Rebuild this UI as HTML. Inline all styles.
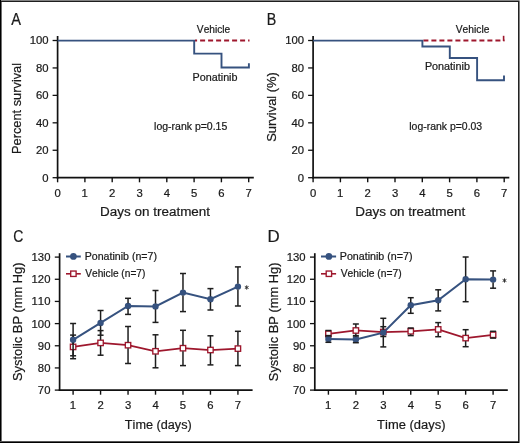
<!DOCTYPE html>
<html><head><meta charset="utf-8"><style>
html,body{margin:0;padding:0;background:#fff;width:520px;height:443px;overflow:hidden}
svg{display:block;will-change:transform}
text{font-family:"Liberation Sans",sans-serif;font-kerning:none;stroke:#1a1a1a;stroke-width:0.22px}
</style></head><body>
<svg width="520" height="443" viewBox="0 0 520 443">
<rect x="0" y="0" width="520" height="443" fill="#fff"/>
<line x1="57.60" y1="36.00" x2="57.60" y2="178.60" stroke="#111" stroke-width="1.7" />
<line x1="56.75" y1="177.70" x2="253.80" y2="177.70" stroke="#111" stroke-width="1.75" />
<line x1="52.60" y1="177.70" x2="57.60" y2="177.70" stroke="#111" stroke-width="1.3" />
<text transform="translate(42.36,181.50) scale(1.0000,1)" font-size="11.3" fill="#1a1a1a">0</text>
<line x1="52.60" y1="150.26" x2="57.60" y2="150.26" stroke="#111" stroke-width="1.3" />
<text transform="translate(36.07,154.06) scale(1.0000,1)" font-size="11.3" fill="#1a1a1a">20</text>
<line x1="52.60" y1="122.82" x2="57.60" y2="122.82" stroke="#111" stroke-width="1.3" />
<text transform="translate(36.07,126.62) scale(1.0000,1)" font-size="11.3" fill="#1a1a1a">40</text>
<line x1="52.60" y1="95.38" x2="57.60" y2="95.38" stroke="#111" stroke-width="1.3" />
<text transform="translate(36.07,99.18) scale(1.0000,1)" font-size="11.3" fill="#1a1a1a">60</text>
<line x1="52.60" y1="67.94" x2="57.60" y2="67.94" stroke="#111" stroke-width="1.3" />
<text transform="translate(36.07,71.74) scale(1.0000,1)" font-size="11.3" fill="#1a1a1a">80</text>
<line x1="52.60" y1="40.50" x2="57.60" y2="40.50" stroke="#111" stroke-width="1.3" />
<text transform="translate(29.79,44.30) scale(1.0000,1)" font-size="11.3" fill="#1a1a1a">100</text>
<line x1="57.60" y1="177.70" x2="57.60" y2="182.30" stroke="#111" stroke-width="1.4" />
<text transform="translate(54.46,196.60) scale(1.0000,1)" font-size="11.3" fill="#1a1a1a">0</text>
<line x1="84.90" y1="177.70" x2="84.90" y2="182.30" stroke="#111" stroke-width="1.4" />
<text transform="translate(81.60,196.60) scale(1.0000,1)" font-size="11.3" fill="#1a1a1a">1</text>
<line x1="112.20" y1="177.70" x2="112.20" y2="182.30" stroke="#111" stroke-width="1.4" />
<text transform="translate(109.06,196.60) scale(1.0000,1)" font-size="11.3" fill="#1a1a1a">2</text>
<line x1="139.50" y1="177.70" x2="139.50" y2="182.30" stroke="#111" stroke-width="1.4" />
<text transform="translate(136.39,196.60) scale(1.0000,1)" font-size="11.3" fill="#1a1a1a">3</text>
<line x1="166.80" y1="177.70" x2="166.80" y2="182.30" stroke="#111" stroke-width="1.4" />
<text transform="translate(163.69,196.60) scale(1.0000,1)" font-size="11.3" fill="#1a1a1a">4</text>
<line x1="194.10" y1="177.70" x2="194.10" y2="182.30" stroke="#111" stroke-width="1.4" />
<text transform="translate(190.97,196.60) scale(1.0000,1)" font-size="11.3" fill="#1a1a1a">5</text>
<line x1="221.40" y1="177.70" x2="221.40" y2="182.30" stroke="#111" stroke-width="1.4" />
<text transform="translate(218.22,196.60) scale(1.0000,1)" font-size="11.3" fill="#1a1a1a">6</text>
<line x1="248.70" y1="177.70" x2="248.70" y2="182.30" stroke="#111" stroke-width="1.4" />
<text transform="translate(245.55,196.60) scale(1.0000,1)" font-size="11.3" fill="#1a1a1a">7</text>
<line x1="313.10" y1="36.00" x2="313.10" y2="178.60" stroke="#111" stroke-width="1.7" />
<line x1="312.25" y1="177.70" x2="509.30" y2="177.70" stroke="#111" stroke-width="1.75" />
<line x1="308.10" y1="177.70" x2="313.10" y2="177.70" stroke="#111" stroke-width="1.3" />
<text transform="translate(297.86,181.50) scale(1.0000,1)" font-size="11.3" fill="#1a1a1a">0</text>
<line x1="308.10" y1="150.26" x2="313.10" y2="150.26" stroke="#111" stroke-width="1.3" />
<text transform="translate(291.57,154.06) scale(1.0000,1)" font-size="11.3" fill="#1a1a1a">20</text>
<line x1="308.10" y1="122.82" x2="313.10" y2="122.82" stroke="#111" stroke-width="1.3" />
<text transform="translate(291.57,126.62) scale(1.0000,1)" font-size="11.3" fill="#1a1a1a">40</text>
<line x1="308.10" y1="95.38" x2="313.10" y2="95.38" stroke="#111" stroke-width="1.3" />
<text transform="translate(291.57,99.18) scale(1.0000,1)" font-size="11.3" fill="#1a1a1a">60</text>
<line x1="308.10" y1="67.94" x2="313.10" y2="67.94" stroke="#111" stroke-width="1.3" />
<text transform="translate(291.57,71.74) scale(1.0000,1)" font-size="11.3" fill="#1a1a1a">80</text>
<line x1="308.10" y1="40.50" x2="313.10" y2="40.50" stroke="#111" stroke-width="1.3" />
<text transform="translate(285.29,44.30) scale(1.0000,1)" font-size="11.3" fill="#1a1a1a">100</text>
<line x1="313.10" y1="177.70" x2="313.10" y2="182.30" stroke="#111" stroke-width="1.4" />
<text transform="translate(309.96,196.60) scale(1.0000,1)" font-size="11.3" fill="#1a1a1a">0</text>
<line x1="340.40" y1="177.70" x2="340.40" y2="182.30" stroke="#111" stroke-width="1.4" />
<text transform="translate(337.10,196.60) scale(1.0000,1)" font-size="11.3" fill="#1a1a1a">1</text>
<line x1="367.70" y1="177.70" x2="367.70" y2="182.30" stroke="#111" stroke-width="1.4" />
<text transform="translate(364.56,196.60) scale(1.0000,1)" font-size="11.3" fill="#1a1a1a">2</text>
<line x1="395.00" y1="177.70" x2="395.00" y2="182.30" stroke="#111" stroke-width="1.4" />
<text transform="translate(391.89,196.60) scale(1.0000,1)" font-size="11.3" fill="#1a1a1a">3</text>
<line x1="422.30" y1="177.70" x2="422.30" y2="182.30" stroke="#111" stroke-width="1.4" />
<text transform="translate(419.19,196.60) scale(1.0000,1)" font-size="11.3" fill="#1a1a1a">4</text>
<line x1="449.60" y1="177.70" x2="449.60" y2="182.30" stroke="#111" stroke-width="1.4" />
<text transform="translate(446.47,196.60) scale(1.0000,1)" font-size="11.3" fill="#1a1a1a">5</text>
<line x1="476.90" y1="177.70" x2="476.90" y2="182.30" stroke="#111" stroke-width="1.4" />
<text transform="translate(473.72,196.60) scale(1.0000,1)" font-size="11.3" fill="#1a1a1a">6</text>
<line x1="504.20" y1="177.70" x2="504.20" y2="182.30" stroke="#111" stroke-width="1.4" />
<text transform="translate(501.05,196.60) scale(1.0000,1)" font-size="11.3" fill="#1a1a1a">7</text>
<line x1="195.00" y1="40.6" x2="249.50" y2="40.6" stroke="#9e172d" stroke-width="2" stroke-dasharray="5,3" stroke-dashoffset="2.9"/>
<path d="M57.60,40.60 L194.20,40.60 L194.20,53.60 L221.50,53.60 L221.50,67.50 L248.90,67.50 L248.90,63.20" fill="none" stroke="#36527f" stroke-width="1.9" stroke-linejoin="miter" stroke-linecap="butt"/>
<line x1="423.40" y1="40.6" x2="504.50" y2="40.6" stroke="#9e172d" stroke-width="2" stroke-dasharray="5,3" stroke-dashoffset="0"/>
<path d="M313.10,40.60 L422.40,40.60 L422.40,46.50 L449.80,46.50 L449.80,58.00 L477.10,58.00 L477.10,80.20 L504.00,80.20 L504.00,75.60" fill="none" stroke="#36527f" stroke-width="1.9" stroke-linejoin="miter" stroke-linecap="butt"/>
<line x1="503.60" y1="35.80" x2="503.60" y2="41.00" stroke="#9e172d" stroke-width="1.6" />
<text transform="translate(196.86,32.90) scale(0.9698,1)" font-size="10.5" fill="#1a1a1a">Vehicle</text>
<text transform="translate(192.62,80.60) scale(1.0263,1)" font-size="10.5" fill="#1a1a1a">Ponatinib</text>
<text transform="translate(154.09,129.60) scale(0.9999,1)" font-size="10.5" fill="#1a1a1a">log-rank p=0.15</text>
<text transform="translate(100.10,216.00) scale(0.9827,1)" font-size="13.7" fill="#1a1a1a">Days on treatment</text>
<text transform="translate(20.60,153.95) rotate(-90) scale(0.9348,1)" font-size="13.7" fill="#1a1a1a">Percent survival</text>
<text transform="translate(455.75,33.00) scale(0.9786,1)" font-size="10.5" fill="#1a1a1a">Vehicle</text>
<text transform="translate(424.91,70.00) scale(1.0287,1)" font-size="10.5" fill="#1a1a1a">Ponatinib</text>
<text transform="translate(409.30,129.70) scale(0.9946,1)" font-size="10.5" fill="#1a1a1a">log-rank p=0.03</text>
<text transform="translate(355.19,216.00) scale(0.9846,1)" font-size="13.7" fill="#1a1a1a">Days on treatment</text>
<text transform="translate(276.10,141.79) rotate(-90) scale(0.9452,1)" font-size="13.7" fill="#1a1a1a">Survival (%)</text>
<text transform="translate(11.17,24.60) scale(0.8605,1)" font-size="17.0" fill="#1a1a1a">A</text>
<text transform="translate(266.83,24.90) scale(0.8302,1)" font-size="17.2" fill="#1a1a1a">B</text>
<text transform="translate(13.29,242.10) scale(0.8171,1)" font-size="17.2" fill="#1a1a1a">C</text>
<text transform="translate(267.62,242.10) scale(0.9816,1)" font-size="17.2" fill="#1a1a1a">D</text>
<line x1="59.60" y1="253.20" x2="59.60" y2="391.00" stroke="#111" stroke-width="1.7" />
<line x1="58.75" y1="390.10" x2="252.60" y2="390.10" stroke="#111" stroke-width="1.75" />
<line x1="54.80" y1="390.10" x2="59.60" y2="390.10" stroke="#111" stroke-width="1.3" />
<text transform="translate(37.87,394.00) scale(1.0000,1)" font-size="11.3" fill="#1a1a1a">70</text>
<line x1="54.80" y1="367.93" x2="59.60" y2="367.93" stroke="#111" stroke-width="1.3" />
<text transform="translate(37.87,371.83) scale(1.0000,1)" font-size="11.3" fill="#1a1a1a">80</text>
<line x1="54.80" y1="345.77" x2="59.60" y2="345.77" stroke="#111" stroke-width="1.3" />
<text transform="translate(37.87,349.67) scale(1.0000,1)" font-size="11.3" fill="#1a1a1a">90</text>
<line x1="54.80" y1="323.60" x2="59.60" y2="323.60" stroke="#111" stroke-width="1.3" />
<text transform="translate(31.59,327.50) scale(1.0000,1)" font-size="11.3" fill="#1a1a1a">100</text>
<line x1="54.80" y1="301.43" x2="59.60" y2="301.43" stroke="#111" stroke-width="1.3" />
<text transform="translate(31.59,305.33) scale(1.0000,1)" font-size="11.3" fill="#1a1a1a">110</text>
<line x1="54.80" y1="279.27" x2="59.60" y2="279.27" stroke="#111" stroke-width="1.3" />
<text transform="translate(31.59,283.17) scale(1.0000,1)" font-size="11.3" fill="#1a1a1a">120</text>
<line x1="54.80" y1="257.10" x2="59.60" y2="257.10" stroke="#111" stroke-width="1.3" />
<text transform="translate(31.59,261.00) scale(1.0000,1)" font-size="11.3" fill="#1a1a1a">130</text>
<line x1="73.10" y1="390.10" x2="73.10" y2="394.70" stroke="#111" stroke-width="1.4" />
<text transform="translate(69.80,409.40) scale(1.0000,1)" font-size="11.3" fill="#1a1a1a">1</text>
<line x1="100.57" y1="390.10" x2="100.57" y2="394.70" stroke="#111" stroke-width="1.4" />
<text transform="translate(97.43,409.40) scale(1.0000,1)" font-size="11.3" fill="#1a1a1a">2</text>
<line x1="128.04" y1="390.10" x2="128.04" y2="394.70" stroke="#111" stroke-width="1.4" />
<text transform="translate(124.93,409.40) scale(1.0000,1)" font-size="11.3" fill="#1a1a1a">3</text>
<line x1="155.51" y1="390.10" x2="155.51" y2="394.70" stroke="#111" stroke-width="1.4" />
<text transform="translate(152.40,409.40) scale(1.0000,1)" font-size="11.3" fill="#1a1a1a">4</text>
<line x1="182.98" y1="390.10" x2="182.98" y2="394.70" stroke="#111" stroke-width="1.4" />
<text transform="translate(179.85,409.40) scale(1.0000,1)" font-size="11.3" fill="#1a1a1a">5</text>
<line x1="210.45" y1="390.10" x2="210.45" y2="394.70" stroke="#111" stroke-width="1.4" />
<text transform="translate(207.27,409.40) scale(1.0000,1)" font-size="11.3" fill="#1a1a1a">6</text>
<line x1="237.92" y1="390.10" x2="237.92" y2="394.70" stroke="#111" stroke-width="1.4" />
<text transform="translate(234.77,409.40) scale(1.0000,1)" font-size="11.3" fill="#1a1a1a">7</text>
<path d="M73.10,346.90 L100.57,342.90 L128.04,345.20 L155.51,351.30 L182.98,348.20 L210.45,350.00 L237.92,348.60" fill="none" stroke="#9e172d" stroke-width="1.75"/>
<rect x="70.40" y="344.20" width="5.4" height="5.4" fill="#fff" stroke="#9e172d" stroke-width="1.35"/>
<rect x="97.87" y="340.20" width="5.4" height="5.4" fill="#fff" stroke="#9e172d" stroke-width="1.35"/>
<rect x="125.34" y="342.50" width="5.4" height="5.4" fill="#fff" stroke="#9e172d" stroke-width="1.35"/>
<rect x="152.81" y="348.60" width="5.4" height="5.4" fill="#fff" stroke="#9e172d" stroke-width="1.35"/>
<rect x="180.28" y="345.50" width="5.4" height="5.4" fill="#fff" stroke="#9e172d" stroke-width="1.35"/>
<rect x="207.75" y="347.30" width="5.4" height="5.4" fill="#fff" stroke="#9e172d" stroke-width="1.35"/>
<rect x="235.22" y="345.90" width="5.4" height="5.4" fill="#fff" stroke="#9e172d" stroke-width="1.35"/>
<line x1="73.10" y1="335.10" x2="73.10" y2="343.90" stroke="#1e1e1e" stroke-width="1.5" />
<line x1="73.10" y1="349.90" x2="73.10" y2="358.70" stroke="#1e1e1e" stroke-width="1.5" />
<line x1="70.10" y1="335.10" x2="76.10" y2="335.10" stroke="#1e1e1e" stroke-width="1.5" />
<line x1="70.10" y1="358.70" x2="76.10" y2="358.70" stroke="#1e1e1e" stroke-width="1.5" />
<line x1="100.57" y1="330.60" x2="100.57" y2="339.90" stroke="#1e1e1e" stroke-width="1.5" />
<line x1="100.57" y1="345.90" x2="100.57" y2="355.20" stroke="#1e1e1e" stroke-width="1.5" />
<line x1="97.57" y1="330.60" x2="103.57" y2="330.60" stroke="#1e1e1e" stroke-width="1.5" />
<line x1="97.57" y1="355.20" x2="103.57" y2="355.20" stroke="#1e1e1e" stroke-width="1.5" />
<line x1="128.04" y1="326.50" x2="128.04" y2="342.20" stroke="#1e1e1e" stroke-width="1.5" />
<line x1="128.04" y1="348.20" x2="128.04" y2="363.50" stroke="#1e1e1e" stroke-width="1.5" />
<line x1="125.04" y1="326.50" x2="131.04" y2="326.50" stroke="#1e1e1e" stroke-width="1.5" />
<line x1="125.04" y1="363.50" x2="131.04" y2="363.50" stroke="#1e1e1e" stroke-width="1.5" />
<line x1="155.51" y1="334.80" x2="155.51" y2="348.30" stroke="#1e1e1e" stroke-width="1.5" />
<line x1="155.51" y1="354.30" x2="155.51" y2="367.80" stroke="#1e1e1e" stroke-width="1.5" />
<line x1="152.51" y1="334.80" x2="158.51" y2="334.80" stroke="#1e1e1e" stroke-width="1.5" />
<line x1="152.51" y1="367.80" x2="158.51" y2="367.80" stroke="#1e1e1e" stroke-width="1.5" />
<line x1="182.98" y1="330.30" x2="182.98" y2="345.20" stroke="#1e1e1e" stroke-width="1.5" />
<line x1="182.98" y1="351.20" x2="182.98" y2="365.60" stroke="#1e1e1e" stroke-width="1.5" />
<line x1="179.98" y1="330.30" x2="185.98" y2="330.30" stroke="#1e1e1e" stroke-width="1.5" />
<line x1="179.98" y1="365.60" x2="185.98" y2="365.60" stroke="#1e1e1e" stroke-width="1.5" />
<line x1="210.45" y1="335.80" x2="210.45" y2="347.00" stroke="#1e1e1e" stroke-width="1.5" />
<line x1="210.45" y1="353.00" x2="210.45" y2="364.90" stroke="#1e1e1e" stroke-width="1.5" />
<line x1="207.45" y1="335.80" x2="213.45" y2="335.80" stroke="#1e1e1e" stroke-width="1.5" />
<line x1="207.45" y1="364.90" x2="213.45" y2="364.90" stroke="#1e1e1e" stroke-width="1.5" />
<line x1="237.92" y1="331.30" x2="237.92" y2="345.60" stroke="#1e1e1e" stroke-width="1.5" />
<line x1="237.92" y1="351.60" x2="237.92" y2="365.60" stroke="#1e1e1e" stroke-width="1.5" />
<line x1="234.92" y1="331.30" x2="240.92" y2="331.30" stroke="#1e1e1e" stroke-width="1.5" />
<line x1="234.92" y1="365.60" x2="240.92" y2="365.60" stroke="#1e1e1e" stroke-width="1.5" />
<path d="M73.10,339.80 L100.57,322.90 L128.04,306.00 L155.51,306.40 L182.98,292.60 L210.45,299.20 L237.92,286.60" fill="none" stroke="#36527f" stroke-width="2"/>
<circle cx="73.10" cy="339.80" r="3.2" fill="#36527f"/>
<circle cx="100.57" cy="322.90" r="3.2" fill="#36527f"/>
<circle cx="128.04" cy="306.00" r="3.2" fill="#36527f"/>
<circle cx="155.51" cy="306.40" r="3.2" fill="#36527f"/>
<circle cx="182.98" cy="292.60" r="3.2" fill="#36527f"/>
<circle cx="210.45" cy="299.20" r="3.2" fill="#36527f"/>
<circle cx="237.92" cy="286.60" r="3.2" fill="#36527f"/>
<line x1="73.10" y1="323.50" x2="73.10" y2="337.00" stroke="#1e1e1e" stroke-width="1.5" />
<line x1="73.10" y1="342.60" x2="73.10" y2="355.80" stroke="#1e1e1e" stroke-width="1.5" />
<line x1="70.10" y1="323.50" x2="76.10" y2="323.50" stroke="#1e1e1e" stroke-width="1.5" />
<line x1="70.10" y1="355.80" x2="76.10" y2="355.80" stroke="#1e1e1e" stroke-width="1.5" />
<line x1="100.57" y1="310.50" x2="100.57" y2="320.10" stroke="#1e1e1e" stroke-width="1.5" />
<line x1="100.57" y1="325.70" x2="100.57" y2="335.20" stroke="#1e1e1e" stroke-width="1.5" />
<line x1="97.57" y1="310.50" x2="103.57" y2="310.50" stroke="#1e1e1e" stroke-width="1.5" />
<line x1="97.57" y1="335.20" x2="103.57" y2="335.20" stroke="#1e1e1e" stroke-width="1.5" />
<line x1="128.04" y1="298.30" x2="128.04" y2="303.20" stroke="#1e1e1e" stroke-width="1.5" />
<line x1="128.04" y1="308.80" x2="128.04" y2="314.40" stroke="#1e1e1e" stroke-width="1.5" />
<line x1="125.04" y1="298.30" x2="131.04" y2="298.30" stroke="#1e1e1e" stroke-width="1.5" />
<line x1="125.04" y1="314.40" x2="131.04" y2="314.40" stroke="#1e1e1e" stroke-width="1.5" />
<line x1="155.51" y1="290.50" x2="155.51" y2="303.60" stroke="#1e1e1e" stroke-width="1.5" />
<line x1="155.51" y1="309.20" x2="155.51" y2="322.40" stroke="#1e1e1e" stroke-width="1.5" />
<line x1="152.51" y1="290.50" x2="158.51" y2="290.50" stroke="#1e1e1e" stroke-width="1.5" />
<line x1="152.51" y1="322.40" x2="158.51" y2="322.40" stroke="#1e1e1e" stroke-width="1.5" />
<line x1="182.98" y1="273.50" x2="182.98" y2="289.80" stroke="#1e1e1e" stroke-width="1.5" />
<line x1="182.98" y1="295.40" x2="182.98" y2="311.60" stroke="#1e1e1e" stroke-width="1.5" />
<line x1="179.98" y1="273.50" x2="185.98" y2="273.50" stroke="#1e1e1e" stroke-width="1.5" />
<line x1="179.98" y1="311.60" x2="185.98" y2="311.60" stroke="#1e1e1e" stroke-width="1.5" />
<line x1="210.45" y1="288.60" x2="210.45" y2="296.40" stroke="#1e1e1e" stroke-width="1.5" />
<line x1="210.45" y1="302.00" x2="210.45" y2="310.00" stroke="#1e1e1e" stroke-width="1.5" />
<line x1="207.45" y1="288.60" x2="213.45" y2="288.60" stroke="#1e1e1e" stroke-width="1.5" />
<line x1="207.45" y1="310.00" x2="213.45" y2="310.00" stroke="#1e1e1e" stroke-width="1.5" />
<line x1="237.92" y1="266.90" x2="237.92" y2="283.80" stroke="#1e1e1e" stroke-width="1.5" />
<line x1="237.92" y1="289.40" x2="237.92" y2="306.00" stroke="#1e1e1e" stroke-width="1.5" />
<line x1="234.92" y1="266.90" x2="240.92" y2="266.90" stroke="#1e1e1e" stroke-width="1.5" />
<line x1="234.92" y1="306.00" x2="240.92" y2="306.00" stroke="#1e1e1e" stroke-width="1.5" />
<line x1="246.70" y1="285.35" x2="246.70" y2="289.65" stroke="#333" stroke-width="1.0" />
<line x1="244.84" y1="286.43" x2="248.56" y2="288.57" stroke="#333" stroke-width="1.0" />
<line x1="248.56" y1="286.43" x2="244.84" y2="288.57" stroke="#333" stroke-width="1.0" />
<line x1="66.00" y1="256.50" x2="80.80" y2="256.50" stroke="#36527f" stroke-width="2" />
<circle cx="73.40" cy="256.45" r="3.35" fill="#36527f"/>
<line x1="66.00" y1="273.80" x2="80.80" y2="273.80" stroke="#9e172d" stroke-width="1.6" />
<rect x="70.70" y="271.05" width="5.4" height="5.4" fill="#fff" stroke="#9e172d" stroke-width="1.35"/>
<text transform="translate(84.73,259.70) scale(1.0101,1)" font-size="10.5" fill="#1a1a1a">Ponatinib (n=7)</text>
<text transform="translate(85.21,277.30) scale(0.9689,1)" font-size="10.5" fill="#1a1a1a">Vehicle (n=7)</text>
<text transform="translate(22.30,380.98) rotate(-90) scale(0.9385,1)" font-size="13.7" fill="#1a1a1a">Systolic BP (mm Hg)</text>
<text transform="translate(124.82,428.80) scale(0.9261,1)" font-size="13.7" fill="#1a1a1a">Time (days)</text>
<line x1="314.80" y1="253.20" x2="314.80" y2="391.00" stroke="#111" stroke-width="1.7" />
<line x1="313.95" y1="390.10" x2="507.80" y2="390.10" stroke="#111" stroke-width="1.75" />
<line x1="310.00" y1="390.10" x2="314.80" y2="390.10" stroke="#111" stroke-width="1.3" />
<text transform="translate(293.07,394.00) scale(1.0000,1)" font-size="11.3" fill="#1a1a1a">70</text>
<line x1="310.00" y1="367.93" x2="314.80" y2="367.93" stroke="#111" stroke-width="1.3" />
<text transform="translate(293.07,371.83) scale(1.0000,1)" font-size="11.3" fill="#1a1a1a">80</text>
<line x1="310.00" y1="345.77" x2="314.80" y2="345.77" stroke="#111" stroke-width="1.3" />
<text transform="translate(293.07,349.67) scale(1.0000,1)" font-size="11.3" fill="#1a1a1a">90</text>
<line x1="310.00" y1="323.60" x2="314.80" y2="323.60" stroke="#111" stroke-width="1.3" />
<text transform="translate(286.79,327.50) scale(1.0000,1)" font-size="11.3" fill="#1a1a1a">100</text>
<line x1="310.00" y1="301.43" x2="314.80" y2="301.43" stroke="#111" stroke-width="1.3" />
<text transform="translate(286.79,305.33) scale(1.0000,1)" font-size="11.3" fill="#1a1a1a">110</text>
<line x1="310.00" y1="279.27" x2="314.80" y2="279.27" stroke="#111" stroke-width="1.3" />
<text transform="translate(286.79,283.17) scale(1.0000,1)" font-size="11.3" fill="#1a1a1a">120</text>
<line x1="310.00" y1="257.10" x2="314.80" y2="257.10" stroke="#111" stroke-width="1.3" />
<text transform="translate(286.79,261.00) scale(1.0000,1)" font-size="11.3" fill="#1a1a1a">130</text>
<line x1="328.40" y1="390.10" x2="328.40" y2="394.70" stroke="#111" stroke-width="1.4" />
<text transform="translate(325.10,409.40) scale(1.0000,1)" font-size="11.3" fill="#1a1a1a">1</text>
<line x1="355.85" y1="390.10" x2="355.85" y2="394.70" stroke="#111" stroke-width="1.4" />
<text transform="translate(352.71,409.40) scale(1.0000,1)" font-size="11.3" fill="#1a1a1a">2</text>
<line x1="383.30" y1="390.10" x2="383.30" y2="394.70" stroke="#111" stroke-width="1.4" />
<text transform="translate(380.19,409.40) scale(1.0000,1)" font-size="11.3" fill="#1a1a1a">3</text>
<line x1="410.75" y1="390.10" x2="410.75" y2="394.70" stroke="#111" stroke-width="1.4" />
<text transform="translate(407.64,409.40) scale(1.0000,1)" font-size="11.3" fill="#1a1a1a">4</text>
<line x1="438.20" y1="390.10" x2="438.20" y2="394.70" stroke="#111" stroke-width="1.4" />
<text transform="translate(435.07,409.40) scale(1.0000,1)" font-size="11.3" fill="#1a1a1a">5</text>
<line x1="465.65" y1="390.10" x2="465.65" y2="394.70" stroke="#111" stroke-width="1.4" />
<text transform="translate(462.47,409.40) scale(1.0000,1)" font-size="11.3" fill="#1a1a1a">6</text>
<line x1="493.10" y1="390.10" x2="493.10" y2="394.70" stroke="#111" stroke-width="1.4" />
<text transform="translate(489.95,409.40) scale(1.0000,1)" font-size="11.3" fill="#1a1a1a">7</text>
<path d="M328.40,333.80 L355.85,330.50 L383.30,332.00 L410.75,331.30 L438.20,329.40 L465.65,338.10 L493.10,334.80" fill="none" stroke="#9e172d" stroke-width="1.75"/>
<rect x="325.70" y="331.10" width="5.4" height="5.4" fill="#fff" stroke="#9e172d" stroke-width="1.35"/>
<rect x="353.15" y="327.80" width="5.4" height="5.4" fill="#fff" stroke="#9e172d" stroke-width="1.35"/>
<rect x="380.60" y="329.30" width="5.4" height="5.4" fill="#fff" stroke="#9e172d" stroke-width="1.35"/>
<rect x="408.05" y="328.60" width="5.4" height="5.4" fill="#fff" stroke="#9e172d" stroke-width="1.35"/>
<rect x="435.50" y="326.70" width="5.4" height="5.4" fill="#fff" stroke="#9e172d" stroke-width="1.35"/>
<rect x="462.95" y="335.40" width="5.4" height="5.4" fill="#fff" stroke="#9e172d" stroke-width="1.35"/>
<rect x="490.40" y="332.10" width="5.4" height="5.4" fill="#fff" stroke="#9e172d" stroke-width="1.35"/>
<line x1="328.40" y1="330.50" x2="328.40" y2="330.80" stroke="#1e1e1e" stroke-width="1.5" />
<line x1="328.40" y1="336.80" x2="328.40" y2="337.00" stroke="#1e1e1e" stroke-width="1.5" />
<line x1="325.40" y1="330.50" x2="331.40" y2="330.50" stroke="#1e1e1e" stroke-width="1.5" />
<line x1="325.40" y1="337.00" x2="331.40" y2="337.00" stroke="#1e1e1e" stroke-width="1.5" />
<line x1="355.85" y1="324.00" x2="355.85" y2="327.50" stroke="#1e1e1e" stroke-width="1.5" />
<line x1="355.85" y1="333.50" x2="355.85" y2="337.00" stroke="#1e1e1e" stroke-width="1.5" />
<line x1="352.85" y1="324.00" x2="358.85" y2="324.00" stroke="#1e1e1e" stroke-width="1.5" />
<line x1="352.85" y1="337.00" x2="358.85" y2="337.00" stroke="#1e1e1e" stroke-width="1.5" />
<line x1="383.30" y1="326.70" x2="383.30" y2="329.00" stroke="#1e1e1e" stroke-width="1.5" />
<line x1="383.30" y1="335.00" x2="383.30" y2="336.50" stroke="#1e1e1e" stroke-width="1.5" />
<line x1="380.30" y1="326.70" x2="386.30" y2="326.70" stroke="#1e1e1e" stroke-width="1.5" />
<line x1="380.30" y1="336.50" x2="386.30" y2="336.50" stroke="#1e1e1e" stroke-width="1.5" />
<line x1="410.75" y1="328.00" x2="410.75" y2="328.30" stroke="#1e1e1e" stroke-width="1.5" />
<line x1="410.75" y1="334.30" x2="410.75" y2="335.60" stroke="#1e1e1e" stroke-width="1.5" />
<line x1="407.75" y1="328.00" x2="413.75" y2="328.00" stroke="#1e1e1e" stroke-width="1.5" />
<line x1="407.75" y1="335.60" x2="413.75" y2="335.60" stroke="#1e1e1e" stroke-width="1.5" />
<line x1="438.20" y1="322.60" x2="438.20" y2="326.40" stroke="#1e1e1e" stroke-width="1.5" />
<line x1="438.20" y1="332.40" x2="438.20" y2="336.70" stroke="#1e1e1e" stroke-width="1.5" />
<line x1="435.20" y1="322.60" x2="441.20" y2="322.60" stroke="#1e1e1e" stroke-width="1.5" />
<line x1="435.20" y1="336.70" x2="441.20" y2="336.70" stroke="#1e1e1e" stroke-width="1.5" />
<line x1="465.65" y1="329.70" x2="465.65" y2="335.10" stroke="#1e1e1e" stroke-width="1.5" />
<line x1="465.65" y1="341.10" x2="465.65" y2="346.70" stroke="#1e1e1e" stroke-width="1.5" />
<line x1="462.65" y1="329.70" x2="468.65" y2="329.70" stroke="#1e1e1e" stroke-width="1.5" />
<line x1="462.65" y1="346.70" x2="468.65" y2="346.70" stroke="#1e1e1e" stroke-width="1.5" />
<line x1="493.10" y1="331.30" x2="493.10" y2="331.80" stroke="#1e1e1e" stroke-width="1.5" />
<line x1="493.10" y1="337.80" x2="493.10" y2="338.10" stroke="#1e1e1e" stroke-width="1.5" />
<line x1="490.10" y1="331.30" x2="496.10" y2="331.30" stroke="#1e1e1e" stroke-width="1.5" />
<line x1="490.10" y1="338.10" x2="496.10" y2="338.10" stroke="#1e1e1e" stroke-width="1.5" />
<path d="M328.40,339.10 L355.85,339.40 L383.30,332.60 L410.75,305.20 L438.20,300.30 L465.65,279.30 L493.10,279.60" fill="none" stroke="#36527f" stroke-width="2"/>
<circle cx="328.40" cy="339.10" r="3.2" fill="#36527f"/>
<circle cx="355.85" cy="339.40" r="3.2" fill="#36527f"/>
<circle cx="383.30" cy="332.60" r="3.2" fill="#36527f"/>
<circle cx="410.75" cy="305.20" r="3.2" fill="#36527f"/>
<circle cx="438.20" cy="300.30" r="3.2" fill="#36527f"/>
<circle cx="465.65" cy="279.30" r="3.2" fill="#36527f"/>
<circle cx="493.10" cy="279.60" r="3.2" fill="#36527f"/>
<line x1="328.40" y1="335.60" x2="328.40" y2="336.30" stroke="#1e1e1e" stroke-width="1.5" />
<line x1="328.40" y1="341.90" x2="328.40" y2="342.30" stroke="#1e1e1e" stroke-width="1.5" />
<line x1="325.40" y1="335.60" x2="331.40" y2="335.60" stroke="#1e1e1e" stroke-width="1.5" />
<line x1="325.40" y1="342.30" x2="331.40" y2="342.30" stroke="#1e1e1e" stroke-width="1.5" />
<line x1="355.85" y1="335.60" x2="355.85" y2="336.60" stroke="#1e1e1e" stroke-width="1.5" />
<line x1="355.85" y1="342.20" x2="355.85" y2="342.70" stroke="#1e1e1e" stroke-width="1.5" />
<line x1="352.85" y1="335.60" x2="358.85" y2="335.60" stroke="#1e1e1e" stroke-width="1.5" />
<line x1="352.85" y1="342.70" x2="358.85" y2="342.70" stroke="#1e1e1e" stroke-width="1.5" />
<line x1="383.30" y1="318.30" x2="383.30" y2="329.80" stroke="#1e1e1e" stroke-width="1.5" />
<line x1="383.30" y1="335.40" x2="383.30" y2="346.90" stroke="#1e1e1e" stroke-width="1.5" />
<line x1="380.30" y1="318.30" x2="386.30" y2="318.30" stroke="#1e1e1e" stroke-width="1.5" />
<line x1="380.30" y1="346.90" x2="386.30" y2="346.90" stroke="#1e1e1e" stroke-width="1.5" />
<line x1="410.75" y1="297.70" x2="410.75" y2="302.40" stroke="#1e1e1e" stroke-width="1.5" />
<line x1="410.75" y1="308.00" x2="410.75" y2="313.30" stroke="#1e1e1e" stroke-width="1.5" />
<line x1="407.75" y1="297.70" x2="413.75" y2="297.70" stroke="#1e1e1e" stroke-width="1.5" />
<line x1="407.75" y1="313.30" x2="413.75" y2="313.30" stroke="#1e1e1e" stroke-width="1.5" />
<line x1="438.20" y1="289.80" x2="438.20" y2="297.50" stroke="#1e1e1e" stroke-width="1.5" />
<line x1="438.20" y1="303.10" x2="438.20" y2="310.90" stroke="#1e1e1e" stroke-width="1.5" />
<line x1="435.20" y1="289.80" x2="441.20" y2="289.80" stroke="#1e1e1e" stroke-width="1.5" />
<line x1="435.20" y1="310.90" x2="441.20" y2="310.90" stroke="#1e1e1e" stroke-width="1.5" />
<line x1="465.65" y1="257.00" x2="465.65" y2="276.50" stroke="#1e1e1e" stroke-width="1.5" />
<line x1="465.65" y1="282.10" x2="465.65" y2="301.70" stroke="#1e1e1e" stroke-width="1.5" />
<line x1="462.65" y1="257.00" x2="468.65" y2="257.00" stroke="#1e1e1e" stroke-width="1.5" />
<line x1="462.65" y1="301.70" x2="468.65" y2="301.70" stroke="#1e1e1e" stroke-width="1.5" />
<line x1="493.10" y1="270.90" x2="493.10" y2="276.80" stroke="#1e1e1e" stroke-width="1.5" />
<line x1="493.10" y1="282.40" x2="493.10" y2="288.20" stroke="#1e1e1e" stroke-width="1.5" />
<line x1="490.10" y1="270.90" x2="496.10" y2="270.90" stroke="#1e1e1e" stroke-width="1.5" />
<line x1="490.10" y1="288.20" x2="496.10" y2="288.20" stroke="#1e1e1e" stroke-width="1.5" />
<line x1="504.50" y1="278.35" x2="504.50" y2="282.65" stroke="#333" stroke-width="1.0" />
<line x1="502.64" y1="279.43" x2="506.36" y2="281.57" stroke="#333" stroke-width="1.0" />
<line x1="506.36" y1="279.43" x2="502.64" y2="281.57" stroke="#333" stroke-width="1.0" />
<line x1="321.00" y1="256.50" x2="336.10" y2="256.50" stroke="#36527f" stroke-width="2" />
<circle cx="328.90" cy="256.45" r="3.35" fill="#36527f"/>
<line x1="321.00" y1="273.80" x2="336.10" y2="273.80" stroke="#9e172d" stroke-width="1.6" />
<rect x="326.20" y="271.05" width="5.4" height="5.4" fill="#fff" stroke="#9e172d" stroke-width="1.35"/>
<text transform="translate(339.82,259.80) scale(1.0172,1)" font-size="10.5" fill="#1a1a1a">Ponatinib (n=7)</text>
<text transform="translate(340.65,277.20) scale(0.9827,1)" font-size="10.5" fill="#1a1a1a">Vehicle (n=7)</text>
<text transform="translate(277.90,381.18) rotate(-90) scale(0.9401,1)" font-size="13.7" fill="#1a1a1a">Systolic BP (mm Hg)</text>
<text transform="translate(377.11,428.80) scale(0.9458,1)" font-size="13.7" fill="#1a1a1a">Time (days)</text>
<rect x="0" y="0" width="520" height="1" fill="#828282"/>
<rect x="0" y="1" width="519" height="1" fill="#1e1e1e"/>
<rect x="0" y="0" width="1" height="443" fill="#000"/>
<rect x="1" y="2" width="1" height="439" fill="#707070"/>
<rect x="0" y="441" width="519" height="1" fill="#555"/>
<rect x="0" y="442" width="519" height="1" fill="#000"/>
<rect x="518" y="1" width="1" height="441" fill="#222"/>
<rect x="519" y="0" width="1" height="443" fill="#808080"/>
<rect x="519" y="0" width="1" height="1" fill="#b0b0b0"/>
</svg>
</body></html>
